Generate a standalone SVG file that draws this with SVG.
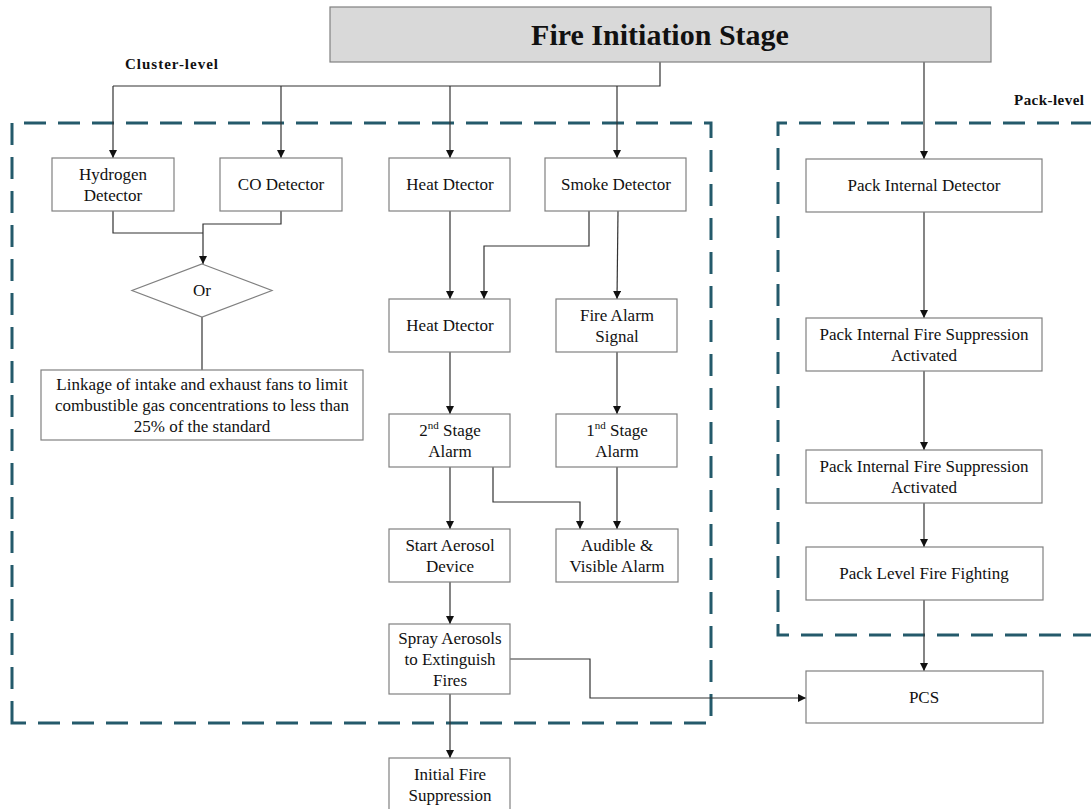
<svg xmlns="http://www.w3.org/2000/svg" width="1091" height="809" viewBox="0 0 1091 809">
<style>
.box{fill:#fff;stroke:#808080;stroke-width:1.2}
.t{font-size:17px;fill:#111;text-anchor:middle}
.c{fill:none;stroke:#333;stroke-width:1.2}
.a{marker-end:url(#ah)}
.dash{fill:none;stroke:#245a6b;stroke-width:3;stroke-dasharray:22 12}
.lbl{font-weight:bold;font-size:15px;fill:#111}
</style>
<defs>
<marker id="ah" viewBox="0 0 10 10" refX="10" refY="5" markerWidth="8" markerHeight="8" markerUnits="userSpaceOnUse" orient="auto">
<path d="M0,0 L10,5 L0,10 Z" fill="#111"/>
</marker>
</defs>
<rect width="1091" height="809" fill="#fff"/>
<g font-family="Liberation Serif, Times New Roman, serif">
<g id="regions">
<path class="dash" d="M12,723 L12,123 L711,123 L711,723 Z"/>
<path class="dash" d="M1095,635 L778,635 L778,123 L1095,123"/>
<text class="lbl" x="125" y="69" textLength="93">Cluster-level</text>
<text class="lbl" x="1014" y="105" textLength="70">Pack-level</text>
</g>
<g id="connectors">
<polyline class="c" points="660,62 660,86 113,86"/>
<line class="c a" x1="113" y1="86" x2="113" y2="158"/>
<line class="c a" x1="281" y1="86" x2="281" y2="158"/>
<line class="c a" x1="450" y1="86" x2="450" y2="158"/>
<line class="c a" x1="617" y1="86" x2="617" y2="158"/>
<line class="c a" x1="924" y1="62" x2="924" y2="159"/>
<polyline class="c" points="113,211 113,233 203,233"/>
<polyline class="c a" points="281,211 281,224 203,224 203,264"/>
<line class="c" x1="202" y1="317" x2="202" y2="370"/>
<line class="c a" x1="450" y1="211" x2="450" y2="299"/>
<polyline class="c a" points="589,211 589,246 484,246 484,299"/>
<line class="c a" x1="618" y1="211" x2="617" y2="299"/>
<line class="c a" x1="617" y1="352" x2="617" y2="414"/>
<line class="c a" x1="450" y1="352" x2="450" y2="414"/>
<line class="c a" x1="450" y1="467" x2="450" y2="529"/>
<polyline class="c a" points="493,467 493,502 580,502 580,529"/>
<line class="c a" x1="617" y1="467" x2="617" y2="529"/>
<line class="c a" x1="450" y1="582" x2="450" y2="624"/>
<line class="c a" x1="450" y1="694" x2="450" y2="758"/>
<polyline class="c a" points="510,659 590,659 590,698 806,698"/>
<line class="c a" x1="924" y1="212" x2="924" y2="318"/>
<line class="c a" x1="924" y1="371" x2="924" y2="450"/>
<line class="c a" x1="924" y1="503" x2="924" y2="547"/>
<line class="c a" x1="924" y1="600" x2="924" y2="671"/>
</g>
<g id="title">
<rect x="330" y="7" width="661" height="55" fill="#d9d9d9" stroke="#808080" stroke-width="1.2"/>
<text x="660" y="45" font-weight="bold" font-size="30" text-anchor="middle" fill="#111">Fire Initiation Stage</text>
</g>
<g id="hydrogen">
<rect class="box" x="52" y="158" width="122" height="53"/>
<text class="t" x="113" y="180">Hydrogen</text>
<text class="t" x="113" y="201">Detector</text>
</g>
<g id="co">
<rect class="box" x="220" y="158" width="122" height="53"/>
<text class="t" x="281" y="190">CO Detector</text>
</g>
<g id="heat1">
<rect class="box" x="389" y="158" width="121" height="53"/>
<text class="t" x="450" y="190">Heat Dtector</text>
</g>
<g id="smoke">
<rect class="box" x="545" y="158" width="141" height="53"/>
<text class="t" x="616" y="190">Smoke Detector</text>
</g>
<g id="or">
<polygon points="202,264 272,290.5 202,317 132,290.5" fill="#fff" stroke="#808080" stroke-width="1.2"/>
<text class="t" x="202" y="296">Or</text>
</g>
<g id="linkage">
<rect class="box" x="41" y="370" width="322" height="70"/>
<text class="t" x="202" y="390">Linkage of intake and exhaust fans to limit</text>
<text class="t" x="202" y="411">combustible gas concentrations to less than</text>
<text class="t" x="202" y="432">25% of the standard</text>
</g>
<g id="heat2">
<rect class="box" x="389" y="299" width="121" height="53"/>
<text class="t" x="450" y="331">Heat Dtector</text>
</g>
<g id="firealarm">
<rect class="box" x="556" y="299" width="121" height="53"/>
<text class="t" x="617" y="321">Fire Alarm</text>
<text class="t" x="617" y="342">Signal</text>
</g>
<g id="stage2">
<rect class="box" x="389" y="414" width="121" height="53"/>
<text class="t" x="450" y="436">2<tspan font-size="11" dy="-7">nd</tspan><tspan dy="7"> Stage</tspan></text>
<text class="t" x="450" y="457">Alarm</text>
</g>
<g id="stage1">
<rect class="box" x="556" y="414" width="121" height="53"/>
<text class="t" x="617" y="436">1<tspan font-size="11" dy="-7">nd</tspan><tspan dy="7"> Stage</tspan></text>
<text class="t" x="617" y="457">Alarm</text>
</g>
<g id="aerosol">
<rect class="box" x="389" y="529" width="121" height="53"/>
<text class="t" x="450" y="551">Start Aerosol</text>
<text class="t" x="450" y="572">Device</text>
</g>
<g id="audible">
<rect class="box" x="556" y="529" width="122" height="53"/>
<text class="t" x="617" y="551">Audible &amp;</text>
<text class="t" x="617" y="572">Visible Alarm</text>
</g>
<g id="spray">
<rect class="box" x="389" y="624" width="121" height="70"/>
<text class="t" x="450" y="644">Spray Aerosols</text>
<text class="t" x="450" y="665">to Extinguish</text>
<text class="t" x="450" y="686">Fires</text>
</g>
<g id="initial">
<rect class="box" x="389" y="758" width="121" height="53"/>
<text class="t" x="450" y="780">Initial Fire</text>
<text class="t" x="450" y="801">Suppression</text>
</g>
<g id="packdet">
<rect class="box" x="806" y="159" width="236" height="53"/>
<text class="t" x="924" y="191">Pack Internal Detector</text>
</g>
<g id="packsup1">
<rect class="box" x="806" y="318" width="236" height="53"/>
<text class="t" x="924" y="340">Pack Internal Fire Suppression</text>
<text class="t" x="924" y="361">Activated</text>
</g>
<g id="packsup2">
<rect class="box" x="806" y="450" width="236" height="53"/>
<text class="t" x="924" y="472">Pack Internal Fire Suppression</text>
<text class="t" x="924" y="493">Activated</text>
</g>
<g id="packfight">
<rect class="box" x="806" y="547" width="237" height="53"/>
<text class="t" x="924" y="579">Pack Level Fire Fighting</text>
</g>
<g id="pcs">
<rect class="box" x="806" y="671" width="237" height="52"/>
<text class="t" x="924" y="703">PCS</text>
</g>
</g>
</svg>
